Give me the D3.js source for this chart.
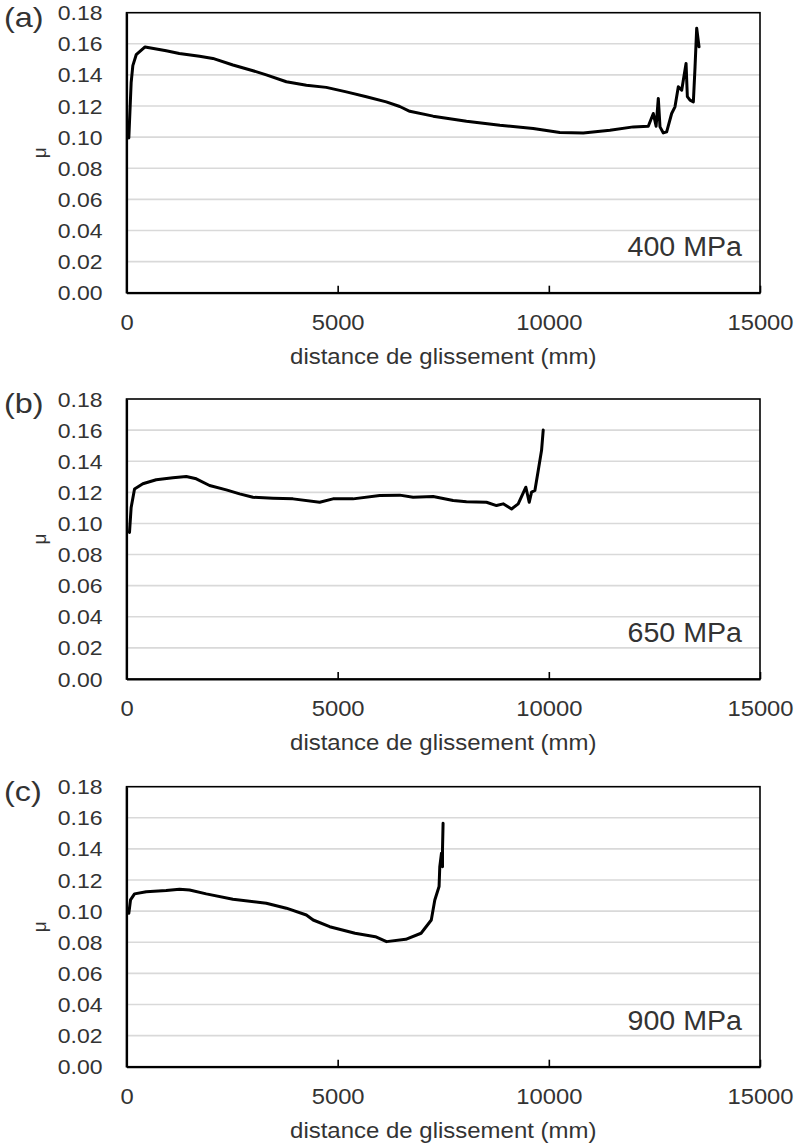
<!DOCTYPE html>
<html>
<head>
<meta charset="utf-8">
<script src="https://cdn.jsdelivr.net/npm/d3@7"></script>
<style>
  html, body { margin: 0; padding: 0; background: #fff; }
  svg { display: block; }
  text { font-family: "Liberation Sans", Arial, sans-serif; fill: #333; }
</style>
</head>
<body>
<svg id="chart" width="795" height="1144"></svg>
<script>
// ---------- data ----------
const panelLetters = ["(a)", "(b)", "(c)"];
const pressureLabels = ["400 MPa", "650 MPa", "900 MPa"];
const xTickValues = [0, 5000, 10000, 15000];
const yTickValues = [0, 0.02, 0.04, 0.06, 0.08, 0.10, 0.12, 0.14, 0.16, 0.18];
const xTitle = "distance de glissement (mm)";
const yTitle = "μ";

// (a) 400 MPa
const distA = [55,110,150,230,440,940,1250,1730,2045,2520,2995,3310,3785,4260,4730,5205,5680,6150,6470,6707,7260,8050,8840,9630,10260,10815,11447,12000,12355,12474,12540,12592,12632,12711,12790,12908,12987,13066,13146,13185,13249,13280,13343,13422,13462,13501,13556];
const muA   = [0.0995,0.135,0.146,0.153,0.158,0.1555,0.1538,0.152,0.1506,0.1464,0.1427,0.140,0.1356,0.1334,0.132,0.1291,0.126,0.1227,0.1197,0.1166,0.1135,0.1102,0.1076,0.1056,0.103,0.1027,0.1045,0.1066,0.107,0.1152,0.107,0.1249,0.1066,0.1027,0.1034,0.1152,0.1195,0.1324,0.1302,0.1367,0.1474,0.126,0.1238,0.1227,0.1452,0.170,0.1581];

// (b) 650 MPa
const distB = [71,110,190,387,703,1098,1415,1652,1967,2363,2678,2994,3468,3942,4574,4890,5364,5996,6470,6786,7260,7734,8050,8524,8761,8919,9117,9275,9456,9535,9591,9670,9749,9828,9867];
const muB   = [0.0942,0.1103,0.1222,0.1255,0.1281,0.1294,0.1302,0.1287,0.1244,0.1216,0.119,0.1168,0.1162,0.1158,0.1136,0.1158,0.1158,0.1179,0.1182,0.1168,0.1173,0.1147,0.114,0.1136,0.1115,0.1126,0.1093,0.1126,0.1233,0.1136,0.1201,0.1212,0.1341,0.147,0.160];

// (c) 900 MPa
const distC = [55,95,190,467,941,1256,1493,1889,2520,3311,3785,4259,4420,4811,5411,5892,6157,6612,6975,7217,7300,7401,7418,7458,7482,7482,7496];
const muC   = [0.0986,0.1072,0.1111,0.1125,0.1132,0.1141,0.1136,0.1111,0.1077,0.1051,0.1019,0.0975,0.0943,0.090,0.0858,0.0836,0.0804,0.0819,0.0858,0.0943,0.1072,0.1158,0.1286,0.1372,0.1286,0.1394,0.1565];

const seriesDist = [distA, distB, distC];
const seriesMu = [muA, muB, muC];

// ---------- layout ----------
const plotLeft = 126.5, plotRight = 760, plotHeight = 280;
const plotTops = [12.7, 399, 786.7];

const svg = d3.select("#chart");

function stretchedText(g, x, y, str, size, sx, anchor) {
  return g.append("text")
    .attr("transform", `translate(${x},${y}) scale(${sx},1)`)
    .attr("text-anchor", anchor)
    .style("font-size", size + "px")
    .text(str);
}

plotTops.forEach((top, i) => {
  const bottom = top + plotHeight;
  const x = d3.scaleLinear().domain([0, 15000]).range([plotLeft, plotRight]);
  const y = d3.scaleLinear().domain([0, 0.18]).range([bottom, top]);
  const g = svg.append("g");

  // gridlines
  g.append("g").selectAll("line")
    .data(yTickValues.filter(v => v > 0 && v < 0.18))
    .join("line")
    .attr("x1", plotLeft).attr("x2", plotRight)
    .attr("y1", d => y(d)).attr("y2", d => y(d))
    .attr("stroke", "#d9d9d9").attr("stroke-width", 1.6);

  // curve
  const pts = seriesDist[i].map((d, k) => [d, seriesMu[i][k]]);
  g.append("path")
    .datum(pts)
    .attr("d", d3.line().x(d => x(d[0])).y(d => y(d[1])))
    .attr("fill", "none")
    .attr("stroke", "#000")
    .attr("stroke-width", 3)
    .attr("stroke-linejoin", "round")
    .attr("stroke-linecap", "round");

  // frame
  g.append("rect")
    .attr("x", plotLeft).attr("y", top)
    .attr("width", plotRight - plotLeft).attr("height", plotHeight)
    .attr("fill", "none").attr("stroke", "#000").attr("stroke-width", 1.6);

  // x axis (ticks inward)
  const xAxis = d3.axisBottom(x).tickValues(xTickValues).tickSize(0).tickFormat("");
  const xa = g.append("g").attr("transform", `translate(0,${bottom})`).call(xAxis);
  xa.select(".domain").attr("stroke", "#000").attr("stroke-width", 2.2);
  xa.selectAll(".tick").append("line")
    .attr("y1", 0).attr("y2", -7).attr("stroke", "#000").attr("stroke-width", 1.6);
  xa.selectAll(".tick").each(function(d) {
    stretchedText(d3.select(this), 0, 37, String(d), 22, 1.08, "middle");
  });

  // y axis
  const yAxis = d3.axisLeft(y).tickValues(yTickValues).tickSize(0).tickFormat("");
  const ya = g.append("g").attr("transform", `translate(${plotLeft},0)`).call(yAxis);
  ya.select(".domain").attr("stroke", "#000").attr("stroke-width", 2.2);
  ya.selectAll(".tick").each(function(d) {
    stretchedText(d3.select(this), -24, 7, d3.format(".2f")(d), 19.5, 1.18, "end");
  });

  // axis titles
  stretchedText(g, (plotLeft + plotRight) / 2, bottom + 71, xTitle, 22, 1.09, "middle");
  g.append("text")
    .attr("transform", `translate(46,${(top + bottom) / 2}) rotate(-90)`)
    .attr("text-anchor", "middle")
    .style("font-size", "19px")
    .text(yTitle);

  // panel letter & pressure label
  stretchedText(g, 4, top + 14, panelLetters[i], 27, 1.2, "start");
  stretchedText(g, 742, bottom - 37, pressureLabels[i], 27, 1.06, "end");
});
</script>
</body>
</html>
